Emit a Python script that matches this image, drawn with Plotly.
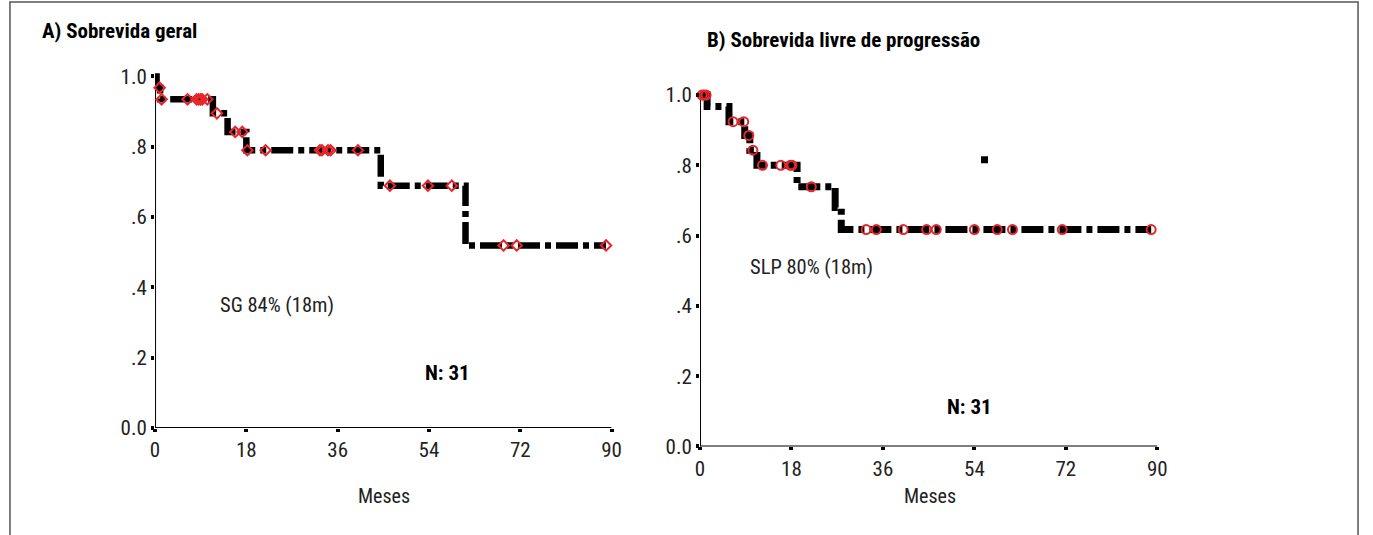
import plotly.graph_objects as go

# ---------------- data ----------------
months_ticks = [0, 18, 36, 54, 72, 90]
surv_ticks = [0.0, 0.2, 0.4, 0.6, 0.8, 1.0]
surv_ticktext = ["0.0", ".2", ".4", ".6", ".8", "1.0"]

# A) Sobrevida geral (overall survival) - step function
os_time = [0, 0.3, 1.0, 11.4, 14.3, 18.0, 44.5, 61.2, 88.9]
os_surv = [1.0, 0.968, 0.935, 0.895, 0.842, 0.790, 0.689, 0.519, 0.519]
# censored observations
os_cens_time = [0.9, 1.3, 6.4, 8.2, 8.6, 9.0, 9.3, 10.3, 12.2, 15.8, 17.2, 18.2,
                21.8, 32.5, 32.9, 34.1, 34.6, 40.0, 46.3, 53.8, 58.5, 68.7, 71.3, 88.9]

# B) Sobrevida livre de progressao (progression-free survival)
pfs_time = [0, 1.4, 5.7, 8.8, 9.8, 11.2, 19.1, 26.6, 27.8, 88.8]
pfs_surv = [1.0, 0.967, 0.924, 0.885, 0.843, 0.800, 0.739, 0.680, 0.617, 0.617]
pfs_cens_time = [0.4, 0.8, 1.2, 6.5, 8.6, 9.6, 10.4, 12.3, 15.9, 17.8, 18.1, 21.9,
                 32.7, 34.7, 40.0, 44.6, 46.5, 54.0, 58.5, 61.5, 71.3, 88.8]
pfs_stray_time = [56.0]
pfs_stray_surv = [0.816]


def step_value(times, survs, t):
    v = survs[0]
    for tt, ss in zip(times, survs):
        if tt <= t:
            v = ss
    return v


os_cens_surv = [step_value(os_time, os_surv, t) for t in os_cens_time]
pfs_cens_surv = [step_value(pfs_time, pfs_surv, t) for t in pfs_cens_time]

# ---------------- styling ----------------
W, H = 1373, 535
FONT = "Roboto Condensed, DejaVu Sans Condensed, Liberation Sans, sans-serif"
TXT = "#222222"
DASH = "22px,5px,6px,5px"

fig = go.Figure()

# left panel
fig.add_trace(go.Scatter(x=os_time, y=os_surv, mode="lines",
                         line=dict(color="black", width=6.5, shape="hv", dash=DASH),
                         xaxis="x", yaxis="y", hoverinfo="skip", showlegend=False))
fig.add_trace(go.Scatter(x=os_cens_time, y=os_cens_surv, mode="markers",
                         marker=dict(symbol="diamond-open", size=8, color="#e8262a", line=dict(width=2)),
                         xaxis="x", yaxis="y", cliponaxis=False, showlegend=False))

# right panel
fig.add_trace(go.Scatter(x=pfs_time, y=pfs_surv, mode="lines",
                         line=dict(color="black", width=7, shape="hv", dash=DASH),
                         xaxis="x2", yaxis="y2", hoverinfo="skip", showlegend=False))
fig.add_trace(go.Scatter(x=pfs_stray_time, y=pfs_stray_surv, mode="markers",
                         marker=dict(symbol="square", size=7, color="black"),
                         xaxis="x2", yaxis="y2", showlegend=False))
fig.add_trace(go.Scatter(x=pfs_cens_time, y=pfs_cens_surv, mode="markers",
                         marker=dict(symbol="circle-open", size=9, color="#e8262a", line=dict(width=2)),
                         xaxis="x2", yaxis="y2", cliponaxis=False, showlegend=False))


def px_x(p):
    return p / W


def px_y(p):
    return 1 - p / H


ax_common = dict(showgrid=False, zeroline=False, showline=False, ticks="outside", ticklen=3, tickwidth=4,
                 tickcolor="black", tickfont=dict(family=FONT, size=21, color=TXT))

fig.update_layout(
    width=W, height=H, margin=dict(l=0, r=0, t=0, b=0),
    paper_bgcolor="white", plot_bgcolor="white",
    xaxis=dict(domain=[px_x(151.7), px_x(613.3)], range=[0, 90], tickvals=months_ticks, anchor="y", **ax_common),
    yaxis=dict(domain=[px_y(437.7), px_y(437.7 - 1.04 * 359.5)], range=[0, 1.04], tickvals=surv_ticks,
               ticktext=surv_ticktext, anchor="x", **ax_common),
    xaxis2=dict(domain=[px_x(702.7), px_x(1165.0)], range=[0, 90], tickvals=months_ticks, anchor="y2", **ax_common),
    yaxis2=dict(domain=[px_y(456.7), px_y(456.7 - 1.04 * 359.5)], range=[0, 1.04], tickvals=surv_ticks,
                ticktext=surv_ticktext, anchor="x2", **ax_common),
)

shapes = []
for xr, yr in (("x", "y"), ("x2", "y2")):
    shapes.append(dict(type="line", xref=xr, yref=yr, x0=0, x1=0, y0=0, y1=1.0,
                       line=dict(color="black", width=2), layer="below"))
    shapes.append(dict(type="line", xref=xr, yref=yr, x0=0, x1=90, y0=0, y1=0,
                       line=dict(color="black", width=2), layer="below"))
# outer frame
shapes.append(dict(type="rect", xref="paper", yref="paper", x0=px_x(5), x1=px_x(1368), y0=-0.2, y1=px_y(2),
                   line=dict(color="#555555", width=1.5)))
fig.update_layout(shapes=shapes)

ann = [
    dict(text="<b>A) Sobrevida geral</b>", xref="paper", yref="paper", x=px_x(35), y=px_y(32), xanchor="left",
         yanchor="middle", font=dict(family=FONT, size=21, color="black")),
    dict(text="<b>B) Sobrevida livre de progressão</b>", xref="paper", yref="paper", x=px_x(708), y=px_y(41),
         xanchor="left", yanchor="middle", font=dict(family=FONT, size=21, color="black")),
    dict(text="Meses", xref="paper", yref="paper", x=px_x(383), y=px_y(507), xanchor="center", yanchor="middle",
         font=dict(family=FONT, size=20, color=TXT)),
    dict(text="Meses", xref="paper", yref="paper", x=px_x(935), y=px_y(507), xanchor="center", yanchor="middle",
         font=dict(family=FONT, size=20, color=TXT)),
    dict(text="SG 84% (18m)", xref="x", yref="y", x=24.0, y=0.35, xanchor="center", yanchor="middle",
         font=dict(family=FONT, size=20.5, color=TXT)),
    dict(text="<b>N: 31</b>", xref="x", yref="y", x=57.7, y=0.155, xanchor="center", yanchor="middle",
         font=dict(family=FONT, size=21, color="black")),
    dict(text="SLP 80% (18m)", xref="x2", yref="y2", x=21.9, y=0.511, xanchor="center", yanchor="middle",
         font=dict(family=FONT, size=20.5, color=TXT)),
    dict(text="<b>N: 31</b>", xref="x2", yref="y2", x=53.0, y=0.113, xanchor="center", yanchor="middle",
         font=dict(family=FONT, size=21, color="black")),
]
for a in ann:
    a["showarrow"] = False
fig.update_layout(annotations=ann)

fig.write_html("out.html", config={"displayModeBar": False},
               post_script="document.body.style.margin='0';document.body.style.overflow='hidden';")
